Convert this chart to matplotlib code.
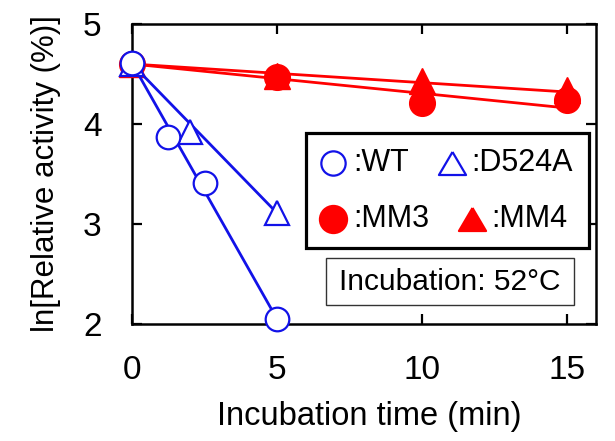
import matplotlib
matplotlib.use("Agg")
import matplotlib.pyplot as plt
from matplotlib.patches import Rectangle

plt.rcParams['font.family'] = ['Liberation Sans', 'DejaVu Sans']

# Data
wt_x = [0, 1.25, 2.5, 5]
wt_y = [4.61, 3.87, 3.41, 2.05]
d524a_x = [0, 2, 5]
d524a_y = [4.6, 3.92, 3.11]
mm3_x = [0, 5, 10, 15]
mm3_y = [4.6, 4.47, 4.21, 4.24]
mm4_x = [0, 5, 10, 15]
mm4_y = [4.6, 4.48, 4.43, 4.34]

# fitted lines (endpoints)
wt_fit_x = [0, 5]
wt_fit_y = [4.61, 2.05]
d524a_fit_x = [0, 5]
d524a_fit_y = [4.6, 3.11]
mm3_fit_x = [0, 15]
mm3_fit_y = [4.6, 4.16]
mm4_fit_x = [0, 15]
mm4_fit_y = [4.6, 4.32]

xticks = [0, 5, 10, 15]
yticks = [2, 3, 4, 5]

W, H = 615, 441
fig = plt.figure(figsize=(W/100, H/100), dpi=100)
L, R, T, B = 132, 596, 24, 324
ax = fig.add_axes([L/W, 1-B/H, (R-L)/W, (B-T)/H])

blue = '#1212e8'
red = '#ff0000'
lw = 2.0

ax.plot(mm3_fit_x, mm3_fit_y, color=red, lw=lw, zorder=2)
ax.plot(mm4_fit_x, mm4_fit_y, color=red, lw=lw, zorder=2)
ax.plot(mm3_x, mm3_y, 'o', color=red, ms=18.5, zorder=3, clip_on=False)
ax.plot(mm4_x, mm4_y, '^', color=red, ms=18.5, zorder=3, clip_on=False)

ax.plot(wt_fit_x, wt_fit_y, color=blue, lw=lw, zorder=4)
ax.plot(d524a_fit_x, d524a_fit_y, color=blue, lw=lw, zorder=4)
ax.plot(d524a_x, d524a_y, '^', mfc='white', mec=blue, mew=1.6, ms=17.5, zorder=5, clip_on=False)
ax.plot(wt_x, wt_y, 'o', mfc='white', mec=blue, mew=1.6, ms=17, zorder=6, clip_on=False)

ax.set_xlim(0, 16)
ax.set_ylim(2, 5)
ax.set_xticks(xticks)
ax.set_yticks(yticks)
ax.tick_params(direction='in', length=7.5, width=1.6, top=True, right=True,
               labelsize=24, pad=22)
for s in ax.spines.values():
    s.set_linewidth(1.8)

def fx(px):
    return px / W
def fy(py):
    return 1 - py / H

fig.text(fx(369), fy(425), 'Incubation time (min)', fontsize=23.5, ha='center', va='baseline')
fig.text(fx(46), fy(174), 'ln[Relative activity (%)]', fontsize=22.5, ha='center', va='center',
         rotation=90)

# Legend (manual)
fig.patches.append(Rectangle((fx(306), fy(248)), fx(589) - fx(306), fy(133) - fy(248),
                             transform=fig.transFigure, fill=True, fc='white',
                             ec='black', lw=2.3, zorder=10))
wide_tri = [(0, 0.85), (-1, -0.85), (1, -0.85), (0, 0.85)]
items = [
    (333, 163, 'o', 'white', blue, 17.5, ':WT', 353),
    (452, 163, wide_tri, 'white', blue, 19.5, ':D524A', 471),
    (333, 219, 'o', red, red, 19.5, ':MM3', 353),
    (472, 219, wide_tri, red, red, 19.5, ':MM4', 491),
]
for mx, my, m, fc, ec, msz, lab, tx in items:
    ln = plt.Line2D([fx(mx)], [fy(my)], marker=m, mfc=fc, mec=ec, mew=1.6, ms=msz,
                    transform=fig.transFigure, zorder=11, ls='none')
    fig.lines.append(ln)
    fig.text(fx(tx), fy(my), lab, fontsize=22, va='center', ha='left', zorder=11)

fig.patches.append(Rectangle((fx(326), fy(305)), fx(574) - fx(326), fy(258) - fy(305),
                             transform=fig.transFigure, fill=True, fc='white',
                             ec='#333333', lw=1.0, zorder=10))
fig.text(fx(450), fy(281.5), 'Incubation: 52\u00b0C', fontsize=21.5, ha='center', va='center',
         zorder=11)

fig.savefig('out.png', dpi=100)
